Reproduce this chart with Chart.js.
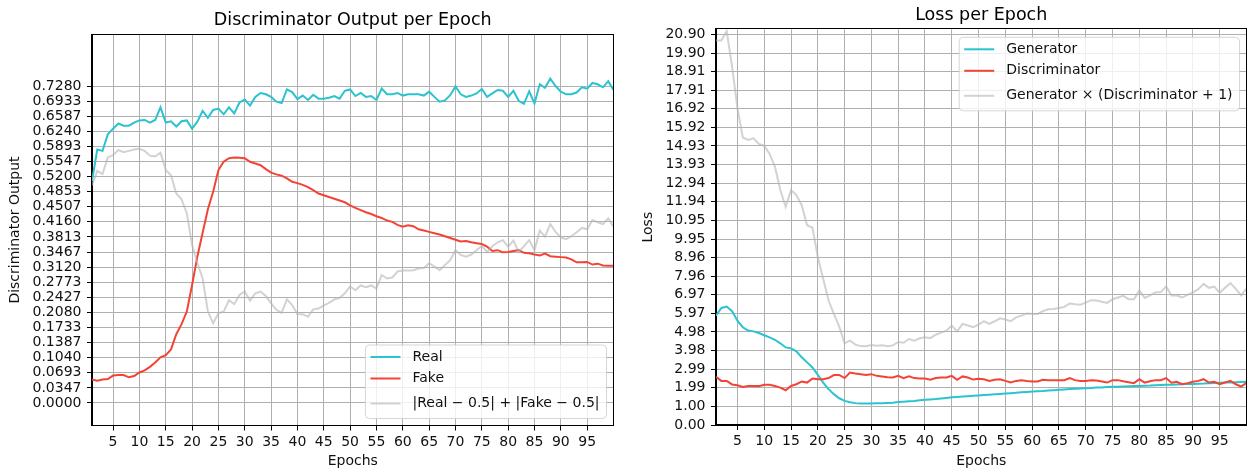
<!DOCTYPE html>
<html>
<head>
<meta charset="utf-8">
<title>GAN training curves</title>
<script src="https://cdn.jsdelivr.net/npm/chart.js@4.4.1/dist/chart.umd.min.js"></script>
<style>
  html, body { margin: 0; padding: 0; background: #fff; }
  body { width: 1247px; height: 470px; position: relative; overflow: hidden; }
  .panel { position: absolute; top: 0; height: 470px; }
</style>
</head>
<body>
<div class="panel" style="left:0;width:622px"><canvas id="discChart"></canvas></div>
<div class="panel" style="left:622px;width:625px"><canvas id="lossChart"></canvas></div>
<script>
const EPOCHS = Array.from({ length: 100 }, (_, i) => i + 1);
const EPOCH_TICKS = [5, 10, 15, 20, 25, 30, 35, 40, 45, 50, 55, 60, 65, 70, 75, 80, 85, 90, 95];

const DISC_TICKS = [0.0000, 0.0347, 0.0693, 0.1040, 0.1387, 0.1733, 0.2080, 0.2427, 0.2773, 0.3120, 0.3467,
  0.3813, 0.4160, 0.4507, 0.4853, 0.5200, 0.5547, 0.5893, 0.6240, 0.6587, 0.6933, 0.7280];
const LOSS_TICKS = [0.00, 1.00, 1.99, 2.99, 3.98, 4.98, 5.97, 6.97, 7.96, 8.96, 9.95,
  10.95, 11.94, 12.94, 13.93, 14.93, 15.92, 16.92, 17.91, 18.91, 19.90, 20.90];

// discriminator output on real / fake batches
const realOut = [
  0.510, 0.582, 0.579, 0.617, 0.630, 0.642, 0.637, 0.637, 0.644, 0.649,
  0.650, 0.644, 0.650, 0.679, 0.644, 0.647, 0.635, 0.647, 0.649, 0.630,
  0.646, 0.671, 0.655, 0.673, 0.676, 0.663, 0.679, 0.665, 0.690, 0.697,
  0.683, 0.703, 0.712, 0.709, 0.703, 0.692, 0.689, 0.720, 0.714, 0.698,
  0.706, 0.696, 0.708, 0.699, 0.699, 0.701, 0.705, 0.699, 0.717, 0.720,
  0.705, 0.712, 0.703, 0.705, 0.696, 0.722, 0.709, 0.709, 0.712, 0.706,
  0.709, 0.709, 0.709, 0.706, 0.715, 0.703, 0.692, 0.695, 0.707, 0.727,
  0.709, 0.703, 0.706, 0.711, 0.721, 0.703, 0.711, 0.719, 0.717, 0.703,
  0.717, 0.694, 0.687, 0.716, 0.688, 0.732, 0.724, 0.745, 0.728, 0.715,
  0.709, 0.709, 0.713, 0.725, 0.722, 0.735, 0.732, 0.725, 0.739, 0.719
];
const fakeOut = [
  0.054, 0.051, 0.054, 0.055, 0.063, 0.064, 0.064, 0.059, 0.062, 0.070,
  0.075, 0.083, 0.093, 0.105, 0.110, 0.123, 0.158, 0.181, 0.210, 0.271,
  0.336, 0.391, 0.445, 0.485, 0.535, 0.554, 0.562, 0.564, 0.563, 0.562,
  0.554, 0.550, 0.546, 0.537, 0.529, 0.525, 0.522, 0.516, 0.508, 0.505,
  0.501, 0.496, 0.489, 0.481, 0.477, 0.473, 0.469, 0.465, 0.461, 0.454,
  0.448, 0.443, 0.438, 0.434, 0.429, 0.425, 0.419, 0.416, 0.409, 0.405,
  0.408, 0.406, 0.399, 0.396, 0.393, 0.390, 0.387, 0.383, 0.379, 0.375,
  0.371, 0.372, 0.369, 0.367, 0.365, 0.359, 0.349, 0.351, 0.346, 0.347,
  0.349, 0.351, 0.345, 0.344, 0.341, 0.339, 0.343, 0.337, 0.336, 0.335,
  0.334, 0.330, 0.323, 0.323, 0.324, 0.318, 0.320, 0.316, 0.315, 0.315
];
const gapOut = [
  0.500, 0.533, 0.526, 0.564, 0.569, 0.581, 0.576, 0.579, 0.582, 0.584,
  0.579, 0.568, 0.566, 0.575, 0.535, 0.523, 0.481, 0.468, 0.436, 0.363,
  0.322, 0.286, 0.210, 0.183, 0.206, 0.210, 0.236, 0.227, 0.248, 0.256,
  0.235, 0.252, 0.256, 0.246, 0.229, 0.214, 0.207, 0.238, 0.225, 0.204,
  0.204, 0.198, 0.215, 0.217, 0.224, 0.230, 0.238, 0.241, 0.252, 0.268,
  0.259, 0.270, 0.266, 0.270, 0.263, 0.294, 0.286, 0.288, 0.302, 0.304,
  0.304, 0.305, 0.309, 0.310, 0.321, 0.313, 0.305, 0.317, 0.328, 0.351,
  0.340, 0.336, 0.341, 0.351, 0.361, 0.347, 0.360, 0.369, 0.374, 0.359,
  0.373, 0.347, 0.360, 0.374, 0.351, 0.396, 0.382, 0.411, 0.393, 0.380,
  0.376, 0.383, 0.392, 0.402, 0.399, 0.420, 0.415, 0.411, 0.424, 0.405
];

// losses
const genLoss = [
  5.85, 6.26, 6.34, 6.09, 5.58, 5.23, 5.05, 5.01, 4.92, 4.80,
  4.69, 4.56, 4.37, 4.15, 4.10, 3.94, 3.62, 3.35, 3.08, 2.68,
  2.27, 1.92, 1.65, 1.43, 1.29, 1.22, 1.17, 1.15, 1.15, 1.15,
  1.16, 1.17, 1.18, 1.19, 1.23, 1.25, 1.27, 1.29, 1.32, 1.35,
  1.37, 1.39, 1.42, 1.45, 1.48, 1.50, 1.52, 1.54, 1.56, 1.58,
  1.60, 1.62, 1.64, 1.66, 1.68, 1.70, 1.72, 1.75, 1.77, 1.79,
  1.81, 1.82, 1.84, 1.86, 1.88, 1.90, 1.92, 1.94, 1.95, 1.97,
  1.98, 2.00, 2.01, 2.03, 2.04, 2.05, 2.06, 2.07, 2.08, 2.09,
  2.10, 2.11, 2.13, 2.14, 2.15, 2.16, 2.17, 2.18, 2.19, 2.20,
  2.21, 2.22, 2.24, 2.25, 2.26, 2.27, 2.28, 2.29, 2.30, 2.31
];
const discLoss = [
  2.58, 2.36, 2.36, 2.17, 2.13, 2.04, 2.09, 2.09, 2.08, 2.15,
  2.15, 2.09, 2.00, 1.86, 2.09, 2.18, 2.33, 2.27, 2.49, 2.45,
  2.45, 2.51, 2.67, 2.68, 2.51, 2.81, 2.76, 2.72, 2.68, 2.72,
  2.63, 2.60, 2.56, 2.54, 2.63, 2.51, 2.60, 2.51, 2.49, 2.49,
  2.42, 2.51, 2.54, 2.54, 2.63, 2.42, 2.60, 2.54, 2.43, 2.47,
  2.45, 2.36, 2.42, 2.45, 2.36, 2.27, 2.36, 2.40, 2.36, 2.33,
  2.33, 2.42, 2.40, 2.40, 2.40, 2.40, 2.51, 2.40, 2.36, 2.36,
  2.40, 2.38, 2.33, 2.27, 2.40, 2.40, 2.34, 2.29, 2.24, 2.45,
  2.27, 2.34, 2.40, 2.40, 2.51, 2.26, 2.31, 2.18, 2.24, 2.31,
  2.36, 2.45, 2.27, 2.31, 2.18, 2.27, 2.36, 2.18, 2.06, 2.26
];
const productLoss = [
  20.57, 20.57, 21.07, 19.18, 16.95, 15.38, 15.25, 15.34, 15.04, 14.93,
  14.50, 13.82, 12.57, 11.68, 12.57, 12.30, 11.76, 10.69, 10.56, 8.98,
  7.82, 6.66, 5.94, 5.26, 4.37, 4.51, 4.30, 4.22, 4.21, 4.28,
  4.24, 4.26, 4.22, 4.26, 4.44, 4.40, 4.60, 4.51, 4.64, 4.69,
  4.65, 4.83, 4.94, 5.05, 5.32, 5.01, 5.41, 5.32, 5.23, 5.37,
  5.55, 5.41, 5.55, 5.71, 5.64, 5.55, 5.76, 5.85, 5.96, 5.94,
  5.94, 6.09, 6.19, 6.21, 6.26, 6.32, 6.50, 6.46, 6.44, 6.55,
  6.68, 6.66, 6.59, 6.53, 6.73, 6.82, 6.91, 6.73, 6.73, 7.20,
  6.80, 6.93, 7.09, 7.11, 7.41, 6.93, 6.93, 6.82, 6.96, 7.09,
  7.27, 7.55, 7.34, 7.41, 7.07, 7.34, 7.59, 7.28, 6.93, 7.30
];

const CYAN = '#2bc3cf';
const RED = '#f44336';
const GREY = 'rgba(180,180,180,0.6)';
const FONT = '"DejaVu Sans", "Liberation Sans", sans-serif';
const TEXT = '#111';

Chart.defaults.font.family = FONT;
Chart.defaults.font.size = 14;
Chart.defaults.font.lineHeight = 1.2;
Chart.defaults.color = TEXT;

// black box around the plotting area, like the matplotlib spines
const framePlugin = {
  id: 'frame',
  afterDatasetsDraw(chart) {
    const { ctx, chartArea: a } = chart;
    const l = Math.round(a.left), t = Math.round(a.top);
    const r = Math.round(a.right), b = Math.round(a.bottom);
    ctx.save();
    ctx.strokeStyle = '#000';
    ctx.lineWidth = 1;
    ctx.strokeRect(l - 0.5, t - 0.5, r - l, b - t);
    ctx.restore();
  }
};

// legend drawn inside the axes with a translucent rounded frame
const boxLegend = {
  id: 'boxLegend',
  afterDatasetsDraw(chart, args, opts) {
    const { ctx, chartArea: a } = chart;
    const sets = chart.data.datasets;
    ctx.save();
    ctx.font = '14px ' + FONT;
    const textW = Math.max(...sets.map(d => ctx.measureText(d.label).width));
    const w = 47 + textW + 7;
    const h = 73.5;
    const x = a.right - 7 - w;
    const y = opts.corner === 'lower' ? a.bottom - 7 - h : a.top + 8;
    ctx.beginPath();
    if (ctx.roundRect) ctx.roundRect(x, y, w, h, 4);
    else ctx.rect(x, y, w, h);
    ctx.fillStyle = 'rgba(255,255,255,0.8)';
    ctx.fill();
    ctx.strokeStyle = 'rgba(204,204,204,0.8)';
    ctx.lineWidth = 1;
    ctx.stroke();
    const rows = [12, 33.5, 58.5];
    sets.forEach((d, i) => {
      const ry = y + rows[i];
      ctx.beginPath();
      ctx.moveTo(x + 5, ry);
      ctx.lineTo(x + 35, ry);
      ctx.strokeStyle = d.borderColor;
      ctx.lineWidth = 2;
      ctx.stroke();
      ctx.fillStyle = TEXT;
      ctx.textBaseline = 'middle';
      ctx.textAlign = 'left';
      ctx.fillText(d.label, x + 47, ry);
    });
    ctx.restore();
  }
};

const lineSet = (label, data, color, order) => ({
  label: label,
  data: data,
  borderColor: color,
  backgroundColor: color,
  borderWidth: 2,
  pointRadius: 0,
  tension: 0,
  fill: false,
  order: order,
});

const gridStyle = { color: '#b0b0b0', tickColor: '#000', tickLength: 5, lineWidth: 1 };

const epochAxis = (height) => ({
  type: 'linear',
  min: 1,
  max: 100,
  bounds: 'data',
  afterBuildTicks: s => { s.ticks = EPOCH_TICKS.map(v => ({ value: v })); },
  afterFit: s => { s.height = height; },
  ticks: { autoSkip: false, maxRotation: 0, padding: 3, callback: v => String(v) },
  grid: gridStyle,
  border: { color: '#000' },
  title: { display: true, text: 'Epochs', padding: { top: 0, bottom: 0.2 } },
});

const valueAxis = (min, max, ticks, digits, width, label, titlePad) => ({
  type: 'linear',
  min: min,
  max: max,
  bounds: 'data',
  afterBuildTicks: s => { s.ticks = ticks.map(v => ({ value: v })); },
  afterFit: s => { s.width = width; },
  ticks: { autoSkip: false, padding: 5.5, callback: v => v.toFixed(digits) },
  grid: gridStyle,
  border: { color: '#000' },
  title: { display: true, text: label, padding: { top: titlePad, bottom: 0 } },
});

const titleStyle = (text, top, bottom) => ({
  display: true,
  text: text,
  color: '#000',
  fullSize: false,
  font: { size: 17.5, weight: 'normal', lineHeight: 1.2 },
  padding: { top: top, bottom: bottom },
});

const discConfig = {
  type: 'line',
  data: {
    labels: EPOCHS,
    datasets: [
      lineSet('Real', realOut, CYAN, 3),
      lineSet('Fake', fakeOut, RED, 2),
      lineSet('|Real \u2212 0.5| + |Fake \u2212 0.5|', gapOut, GREY, 1),
    ]
  },
  options: {
    responsive: true,
    maintainAspectRatio: false,
    animation: false,
    devicePixelRatio: 1,
    layout: { padding: { left: 0, right: 8.5, top: 0, bottom: 0 } },
    plugins: {
      legend: { display: false },
      tooltip: { enabled: false },
      title: titleStyle('Discriminator Output per Epoch', 10.2, 3.3),
      boxLegend: { corner: 'lower' },
    },
    scales: {
      x: epochAxis(44.5),
      y: valueAxis(-0.0517, 0.8463, DISC_TICKS, 4, 92, 'Discriminator Output', 6.6),
    }
  },
  plugins: [framePlugin, boxLegend],
};

const lossConfig = {
  type: 'line',
  data: {
    labels: EPOCHS,
    datasets: [
      lineSet('Generator', genLoss, CYAN, 3),
      lineSet('Discriminator', discLoss, RED, 2),
      lineSet('Generator \u00d7 (Discriminator + 1)', productLoss, GREY, 1),
    ]
  },
  options: {
    responsive: true,
    maintainAspectRatio: false,
    animation: false,
    devicePixelRatio: 1,
    layout: { padding: { left: 0, right: 0.5, top: 0, bottom: 0 } },
    plugins: {
      legend: { display: false },
      tooltip: { enabled: false },
      title: titleStyle('Loss per Epoch', 4.5, 3.8),
      boxLegend: { corner: 'upper' },
    },
    scales: {
      x: epochAxis(45),
      y: valueAxis(0, 21.17, LOSS_TICKS, 2, 94, 'Loss', 17.6),
    }
  },
  plugins: [framePlugin, boxLegend],
};

const discChart = new Chart(document.getElementById('discChart'), discConfig);
const lossChart = new Chart(document.getElementById('lossChart'), lossConfig);
</script>
</body>
</html>
